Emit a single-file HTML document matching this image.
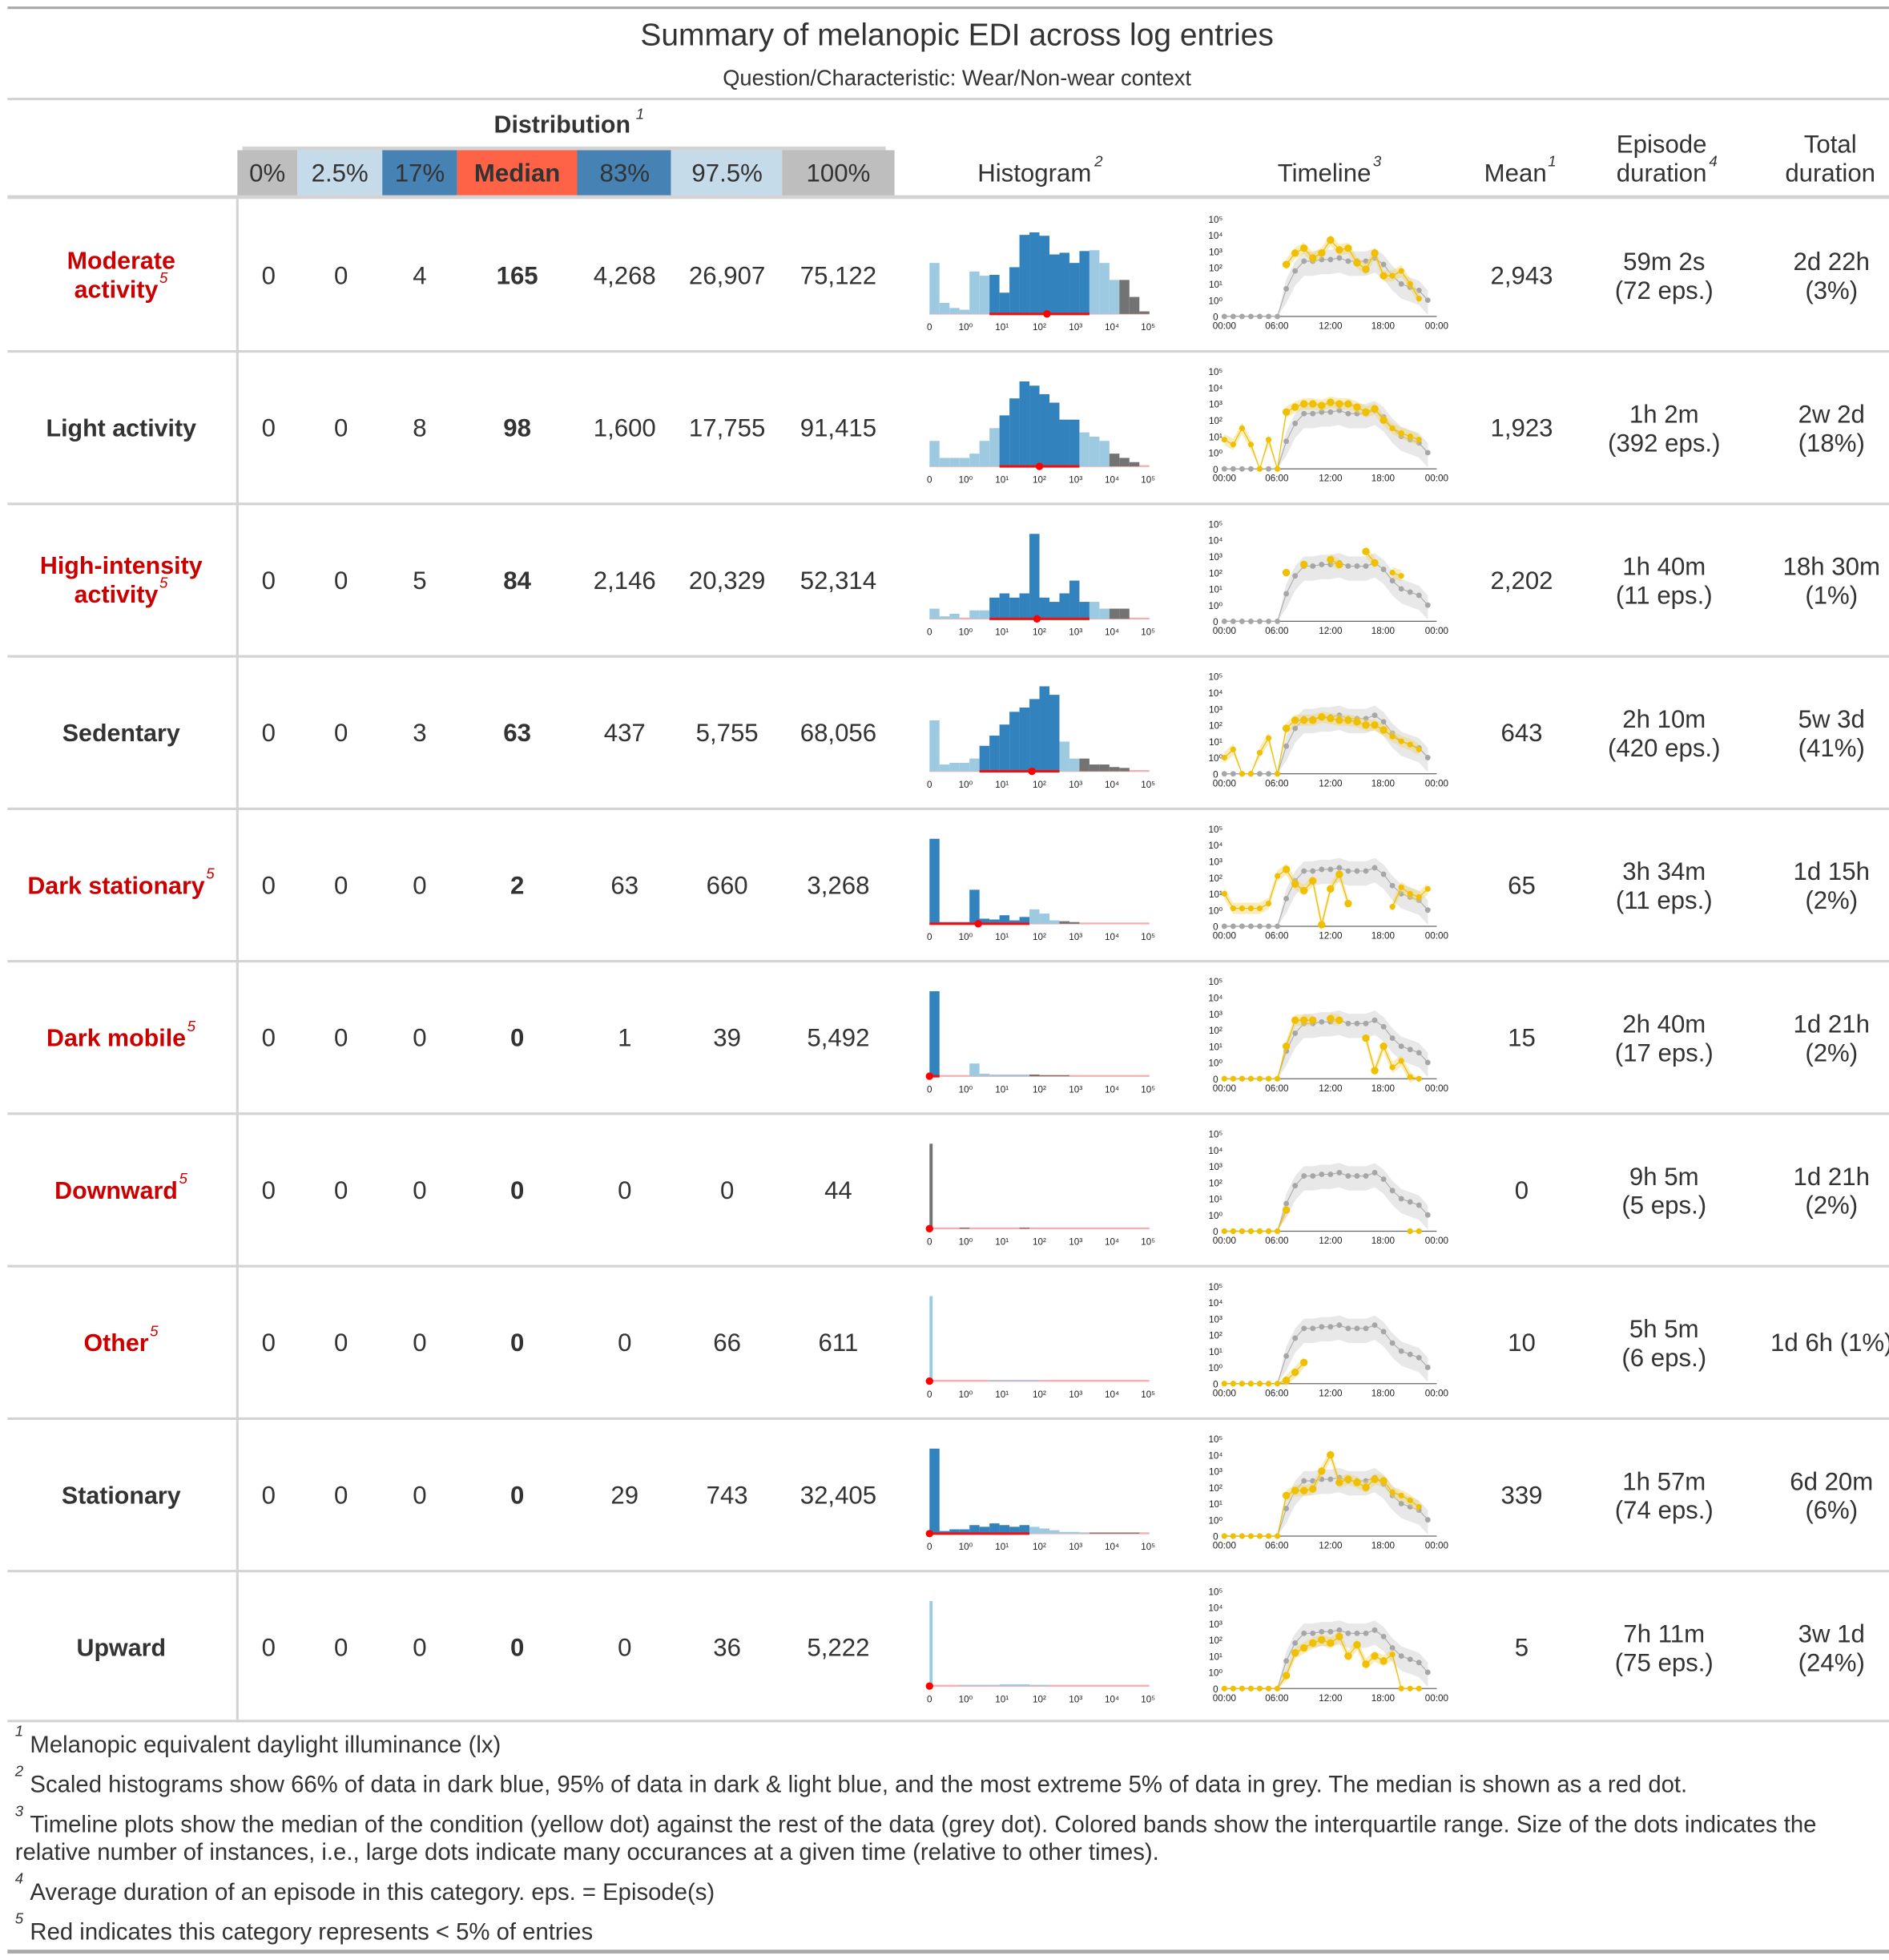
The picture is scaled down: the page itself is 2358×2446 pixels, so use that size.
<!DOCTYPE html>
<html><head><meta charset="utf-8">
<style>
html,body{margin:0;padding:0;background:#fff;width:2358px;height:2446px;overflow:hidden}
svg text{font-family:"Liberation Sans",sans-serif;fill:#333}
.v{font-size:20px;text-anchor:middle}
.h{font-size:20px;text-anchor:middle}
.lab{font-size:19.5px;font-weight:bold;text-anchor:middle}
.red{fill:#cc0000}
.sup{font-size:12px;font-style:italic}
.tk{font-size:7.5px;fill:#222;text-anchor:middle}
.fn{font-size:18.8px}
</style></head><body>
<svg id="s" width="2358" height="2446" viewBox="0 0 1512 1568" xmlns="http://www.w3.org/2000/svg">
<rect x="0" y="0" width="1512" height="1568" fill="#fff"/>
<rect x="6" y="5" width="1506" height="2" fill="#a8a8a8"/>
<text x="766" y="36" style="font-size:25px;text-anchor:middle">Summary of melanopic EDI across log entries</text>
<text x="766" y="68" style="font-size:17.5px;text-anchor:middle">Question/Characteristic: Wear/Non-wear context</text>
<rect x="6" y="78" width="1506" height="2" fill="#d3d3d3"/>
<text x="450" y="106" style="font-size:19.5px;font-weight:bold;text-anchor:middle">Distribution</text><text x="509" y="95" class="sup">1</text>
<rect x="194" y="117" width="515" height="3" fill="#d3d3d3"/>
<rect x="190" y="120" width="48" height="37" fill="#bebebe"/>
<rect x="238" y="120" width="68" height="37" fill="#c6dbea"/>
<rect x="306" y="120" width="60" height="37" fill="#4682b4"/>
<rect x="366" y="120" width="96" height="37" fill="#ff6347"/>
<rect x="462" y="120" width="75" height="37" fill="#4682b4"/>
<rect x="537" y="120" width="89" height="37" fill="#c6dbea"/>
<rect x="626" y="120" width="90" height="37" fill="#bebebe"/>
<text x="214" y="145" class="h">0%</text>
<text x="272" y="145" class="h">2.5%</text>
<text x="336" y="145" class="h">17%</text>
<text x="414" y="145" class="h" style="font-weight:bold">Median</text>
<text x="500" y="145" class="h">83%</text>
<text x="582" y="145" class="h">97.5%</text>
<text x="671" y="145" class="h">100%</text>
<text x="828" y="145" class="h">Histogram</text><text x="876" y="133" class="sup">2</text>
<text x="1060" y="145" class="h">Timeline</text><text x="1099" y="133" class="sup">3</text>
<text x="1213" y="145" class="h">Mean</text><text x="1239" y="133" class="sup">1</text>
<text x="1330" y="122" class="h">Episode</text>
<text x="1330" y="145" class="h">duration</text><text x="1368" y="133" class="sup">4</text>
<text x="1465" y="122" class="h">Total</text>
<text x="1465" y="145" class="h">duration</text>
<rect x="6" y="156" width="1506" height="3" fill="#d3d3d3"/>
<rect x="189" y="159" width="2" height="1219" fill="#d3d3d3"/>
<g id="rows"></g>
<rect x="6" y="1376" width="1506" height="2" fill="#d3d3d3"/>
<text x="12" y="1389" class="sup">1</text><text x="24" y="1402" class="fn">Melanopic equivalent daylight illuminance (lx)</text>
<text x="12" y="1421" class="sup">2</text><text x="24" y="1434" class="fn">Scaled histograms show 66% of data in dark blue, 95% of data in dark &amp; light blue, and the most extreme 5% of data in grey. The median is shown as a red dot.</text>
<text x="12" y="1453" class="sup">3</text><text x="24" y="1466" class="fn">Timeline plots show the median of the condition (yellow dot) against the rest of the data (grey dot). Colored bands show the interquartile range. Size of the dots indicates the</text>
<text x="12" y="1488" class="fn">relative number of instances, i.e., large dots indicate many occurances at a given time (relative to other times).</text>
<text x="12" y="1507" class="sup">4</text><text x="24" y="1520" class="fn">Average duration of an episode in this category. eps. = Episode(s)</text>
<text x="12" y="1539" class="sup">5</text><text x="24" y="1552" class="fn">Red indicates this category represents &lt; 5% of entries</text>
<rect x="6" y="1560" width="1506" height="3" fill="#a8a8a8"/>
</svg>
<script>
var NS="http://www.w3.org/2000/svg",G=document.getElementById("rows");
function el(t,a,txt){var e=document.createElementNS(NS,t);for(var k in a)e.setAttribute(k,a[k]);if(txt!=null)e.textContent=txt;G.appendChild(e);return e;}
var rows=[
{l:["Moderate","activity"],red:1,v:["0","0","4","165","4,268","26,907","75,122"],m:"2,943",e:["59m 2s","(72 eps.)"],t:["2d 22h","(3%)"],
 h:[.6,.13,.07,.05,.5,.45,.46,.25,.55,.93,.96,.92,.7,.72,.6,.74,.75,.6,.4,.4,.2,.03],d:[6,16],g:19,md:838,
 y:{7:2.2,8:2.9,9:3.2,10:2.6,11:2.9,12:3.7,13:3.1,14:3.2,15:2.3,16:1.9,17:2.9,18:1.5,19:1.5,20:1.8,21:1.0,22:0.1}},
{l:["Light activity"],v:["0","0","8","98","1,600","17,755","91,415"],m:"1,923",e:["1h 2m","(392 eps.)"],t:["2w 2d","(18%)"],
 h:[.3,.1,.1,.1,.15,.3,.45,.6,.8,1,.95,.85,.75,.55,.55,.4,.35,.3,.15,.1,.05,0],d:[7,15],g:18,md:832,
 y:{0:.8,1:.5,2:1.5,3:.5,4:-1,5:.8,6:-1,7:2.5,8:2.8,9:3,10:3,11:2.9,12:3.1,13:3.0,14:3.0,15:2.8,16:2.5,17:2.7,18:2.0,19:1.5,20:1.2,21:1.0,22:.8}},
{l:["High-intensity","activity"],red:1,v:["0","0","5","84","2,146","20,329","52,314"],m:"2,202",e:["1h 40m","(11 eps.)"],t:["18h 30m","(1%)"],
 h:[.12,.03,.06,0,.1,.1,.25,.3,.25,.3,1,.25,.2,.3,.45,.2,.2,.12,.12,.12,0,0],d:[6,16],g:18,md:830,
 y:{7:2.0,9:2.5,12:2.8,13:2.5,16:3.3,17:2.6,19:2,20:1.8}},
{l:["Sedentary"],v:["0","0","3","63","437","5,755","68,056"],m:"643",e:["2h 10m","(420 eps.)"],t:["5w 3d","(41%)"],
 h:[.6,.08,.1,.1,.15,.3,.42,.55,.7,.75,.85,1,.9,.35,.15,.15,.08,.08,.05,.04,0,0],d:[5,13],g:15,md:826,
 y:{0:0,1:.5,2:-1,3:-1,4:.3,5:1.2,6:-1,7:1.8,8:2.3,9:2.3,10:2.3,11:2.5,12:2.4,13:2.3,14:2.3,15:2.2,16:2.0,17:2.0,18:1.7,19:1.3,20:1.0,21:.8,22:.5}},
{l:["Dark stationary"],red:1,v:["0","0","0","2","63","660","3,268"],m:"65",e:["3h 34m","(11 eps.)"],t:["1d 15h","(2%)"],
 h:[1,.02,.02,.02,.4,.06,.05,.1,.04,.08,.17,.12,.04,.03,.02,0,0,0,0,0,0,0],d:[0,10],g:13,md:783,
 y:{0:1.0,1:.1,2:.1,3:.1,4:.1,5:.4,6:2.1,7:2.5,8:1.6,9:1.2,10:1.8,11:-.9,12:1.3,13:2.2,14:.4,19:.2,20:1.4,21:1.0,22:.8,23:1.3}},
{l:["Dark mobile"],red:1,v:["0","0","0","0","1","39","5,492"],m:"15",e:["2h 40m","(17 eps.)"],t:["1d 21h","(2%)"],
 h:[1,0,0,0,.15,.03,.02,.02,.02,.02,.02,.01,.01,.01,0,0,0,0,0,0,0,0],d:[0,1],g:10,md:744,
 y:{0:-1,1:-1,2:-1,3:-1,4:-1,5:-1,6:-1,7:1.0,8:2.6,9:2.6,10:2.6,12:2.7,13:2.6,16:1.5,17:-.5,18:1.0,19:-.3,20:.1,21:-.9,22:-1}},
{l:["Downward"],red:1,v:["0","0","0","0","0","0","44"],m:"0",e:["9h 5m","(5 eps.)"],t:["1d 21h","(2%)"],
 h:[1,0,0,.01,0,0,0,0,0,.01,0,0,0,0,0,0,0,0,0,0,0,0],d:[0,0],g:0,md:744,thin:1,
 y:{0:-1,1:-1,2:-1,3:-1,4:-1,5:-1,6:-1,7:.3,21:-1,22:-1}},
{l:["Other"],red:1,v:["0","0","0","0","0","66","611"],m:"10",e:["5h 5m","(6 eps.)"],t:["1d 6h (1%)",""],
 h:[1,0,0,0,0,0,.01,.01,.01,.01,.01,0,0,0,0,0,0,0,0,0,0,0],d:[0,0],g:12,md:744,thin:1,
 y:{0:-1,1:-1,2:-1,3:-1,4:-1,5:-1,6:-1,7:-.8,8:-.3,9:.3}},
{l:["Stationary"],v:["0","0","0","0","29","743","32,405"],m:"339",e:["1h 57m","(74 eps.)"],t:["6d 20m","(6%)"],
 h:[1,.03,.05,.05,.1,.08,.12,.1,.08,.1,.08,.06,.04,.02,.02,.01,.01,.01,.01,.01,.01,0],d:[0,10],g:16,md:744,
 y:{0:-1,1:-1,2:-1,3:-1,4:-1,5:-1,6:-1,7:1.5,8:1.8,9:1.8,10:1.9,11:3.0,12:4.0,13:2.3,14:2.5,15:2.3,16:2.0,17:2.5,18:2.4,19:1.7,20:1.5,21:1.2,22:.8}},
{l:["Upward"],v:["0","0","0","0","0","36","5,222"],m:"5",e:["7h 11m","(75 eps.)"],t:["3w 1d","(24%)"],
 h:[1,0,0,.01,.01,.01,.01,.02,.02,.02,.01,.01,0,0,0,0,0,0,0,0,0,0],d:[0,0],g:14,md:744,thin:1,
 y:{0:-1,1:-1,2:-1,3:-1,4:-1,5:-1,6:-1,7:-.2,8:1.2,9:1.5,10:1.8,11:2.0,12:1.8,13:2.2,14:1.0,15:1.7,16:.5,17:1.0,18:.7,19:1.1,20:-1,21:-1,22:-1}}
];
var grey=[-1,-1,-1,-1,-1,-1,-1,.7,1.8,2.4,2.4,2.5,2.5,2.6,2.4,2.4,2.4,2.6,2.2,1.5,1.0,.8,.6,0.0];
var xs=[215,273,336,414,500,582,671];
rows.forEach(function(r,i){
 var T=159+122*i,cy=T+61;
 if(i>0) el("rect",{x:6,y:T-1,width:1506,height:2,fill:"#d3d3d3"});
 var lc="lab"+(r.red?" red":"");
 var last;
 if(r.l.length==2){el("text",{x:97,y:cy-5,"class":lc},r.l[0]);last=el("text",{x:93,y:cy+18,"class":lc},r.l[1]);}
 else last=el("text",{x:r.red?93:97,y:cy+7,"class":lc},r.l[0]);
 if(r.red){var w=last.getComputedTextLength();var sx=93+w/2+1;el("text",{x:sx,y:(r.l.length==2?cy+6:cy-5),"class":"sup red"},"5");}
 r.v.forEach(function(v,j){var t=el("text",{x:xs[j],y:cy+7,"class":"v"},v);if(j==3)t.setAttribute("style","font-weight:bold");});
 el("text",{x:1218,y:cy+7,"class":"v"},r.m);
 if(r.e[1]){el("text",{x:1332,y:cy-4,"class":"v"},r.e[0]);el("text",{x:1332,y:cy+19,"class":"v"},r.e[1]);}
 if(r.t[1]){el("text",{x:1466,y:cy-4,"class":"v"},r.t[0]);el("text",{x:1466,y:cy+19,"class":"v"},r.t[1]);}
 else el("text",{x:1466,y:cy+7,"class":"v"},r.t[0]);
 var B=T+92,H=68;
 el("rect",{x:744,y:B-1,width:176,height:1.5,fill:"#f4b0b0"});
 r.h.forEach(function(h,k){if(h<=0)return;var c;
  if(k>=r.g&&r.g>0)c="#737373";else if(k>=r.d[0]&&k<r.d[1])c="#3182bd";else c="#9ecae1";
  if(r.g==0)c="#737373";
  var w=8,x=744+k*8;if(r.thin&&k==0)w=2.5;
  var hh=Math.max(h*H,0.8);el("rect",{x:x,y:B-hh,width:w,height:hh,fill:c});});
 if(r.d[1]>r.d[0]) el("rect",{x:744+r.d[0]*8,y:B-1,width:(r.d[1]-r.d[0])*8,height:2,fill:"#ee1111"});
 el("circle",{cx:r.md,cy:B,r:3,fill:"#ff0000"});
 var hl=[["0",744],["10⁰",773],["10¹",802],["10²",832],["10³",861],["10⁴",890],["10⁵",919]];
 hl.forEach(function(a){el("text",{x:a[1],y:B+13,"class":"tk"},a[0]);});
 var Z=T+94;function Y(v){return Z-(v+1)*13;}function X(h){return 980+h*7.08;}
 el("line",{x1:978,y1:Z,x2:1150,y2:Z,stroke:"#666","stroke-width":.8});
 var yl=["0","10⁰","10¹","10²","10³","10⁴","10⁵"];
 yl.forEach(function(t,k){el("text",{x:973,y:Z-k*13+3,"class":"tk"},t);});
 [["00:00",980],["06:00",1022],["12:00",1065],["18:00",1107],["00:00",1150]].forEach(function(a){el("text",{x:a[1],y:Z+10,"class":"tk"},a[0]);});
 var up="",dn="";grey.forEach(function(v,h){var lo=v<0?-1:v-0.9,hi=v<0?-1:v+0.6;if(h==6){hi=-1;}up+=(h?"L":"M")+X(h)+","+Y(hi);dn="L"+X(h)+","+Y(lo)+dn;});
 el("path",{d:up+dn+"Z",fill:"#d9d9d9",opacity:.6});
 var gp="";grey.forEach(function(v,h){gp+=(h?"L":"M")+X(h)+","+Y(v);});
 el("path",{d:gp,fill:"none",stroke:"#aaa","stroke-width":.7});
 grey.forEach(function(v,h){el("circle",{cx:X(h),cy:Y(v),r:2.2,fill:"#a6a6a6"});});
 var ks=Object.keys(r.y).map(Number).sort(function(a,b){return a-b});
 // contiguous segments for band and line
 var segs=[],cur=[];
 ks.forEach(function(h,n){if(n>0&&h-ks[n-1]!=1){segs.push(cur);cur=[];}cur.push(h);});
 if(cur.length)segs.push(cur);
 segs.forEach(function(sg){if(sg.length<2)return;var yu="",yd="";
  sg.forEach(function(h,n){var v=r.y[h];yu+=(n?"L":"M")+X(h)+","+Y(v<-0.9?-1:v+0.35);yd="L"+X(h)+","+Y(v<-0.9?-1:v-0.35)+yd;});
  el("path",{d:yu+yd+"Z",fill:"#f2d46a",opacity:.45});
  var yp="";sg.forEach(function(h,n){yp+=(n?"L":"M")+X(h)+","+Y(r.y[h]);});
  el("path",{d:yp,fill:"none",stroke:"#eebf00","stroke-width":.8});});
 ks.forEach(function(h){el("circle",{cx:X(h),cy:Y(r.y[h]),r:(h>=7&&h<=18)?3:2.3,fill:"#efbf00"});});
});
</script>
</body></html>
